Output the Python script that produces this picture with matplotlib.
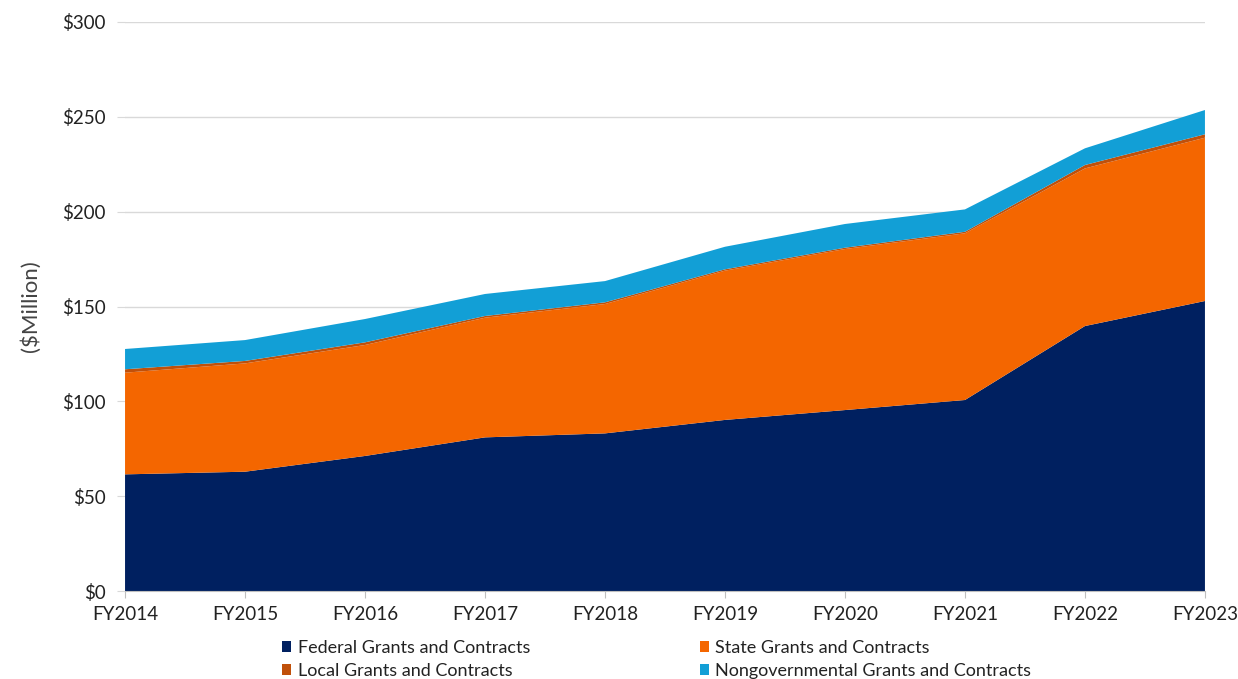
import matplotlib
matplotlib.use("Agg")
import matplotlib.pyplot as plt
from matplotlib.ticker import FuncFormatter

years = ["FY2014", "FY2015", "FY2016", "FY2017", "FY2018",
         "FY2019", "FY2020", "FY2021", "FY2022", "FY2023"]

# Sponsored revenue by source, $ million
federal = [61.5, 62.9, 71.2, 81.0, 83.1, 90.2, 95.4, 100.7, 139.7, 152.9]
state = [53.6, 57.1, 58.5, 63.1, 68.2, 78.7, 84.9, 87.9, 83.1, 86.1]
local = [1.8, 1.3, 1.4, 0.9, 0.9, 0.7, 0.7, 0.8, 1.8, 1.8]
nongov = [10.7, 11.0, 12.3, 11.6, 11.2, 11.9, 12.5, 11.8, 8.8, 12.8]

series_names = ["Federal Grants and Contracts", "State Grants and Contracts",
                "Local Grants and Contracts", "Nongovernmental Grants and Contracts"]
colors = ["#002060", "#F46600", "#C0500A", "#129FD6"]

plt.rcParams["font.family"] = ["Lato", "DejaVu Sans"]

fig = plt.figure(figsize=(12.38, 6.79), dpi=100)
ax = fig.add_axes([0.101, 0.1296, 0.8723, 0.838])

x = list(range(len(years)))
polys = ax.stackplot(x, federal, state, local, nongov, colors=colors,
                     labels=series_names, linewidth=0, zorder=2)

ax.set_xlim(0, len(years) - 1)
ax.set_ylim(0, 300)
ax.set_yticks(range(0, 301, 50))
ax.yaxis.set_major_formatter(FuncFormatter(lambda v, p: f"${int(v)}"))
ax.set_xticks(x)
ax.set_xticklabels(years)

ax.grid(axis="y", color="#D9D9D9", linewidth=1, zorder=0)
ax.set_axisbelow(True)
for s in ["top", "right", "left"]:
    ax.spines[s].set_visible(False)
ax.spines["bottom"].set_color("#BFBFBF")
ax.spines["bottom"].set_zorder(3)

ax.tick_params(axis="y", length=6, color="#D9D9D9", labelsize=13.5,
               labelcolor="#222222", pad=8)
ax.tick_params(axis="x", length=5, color="#BFBFBF", labelsize=13.5,
               labelcolor="#222222", pad=6)

ax.set_ylabel("($Million)", fontsize=16, color="#444444", labelpad=15)

handles = [polys[0], polys[2], polys[1], polys[3]]
labels = [series_names[0], series_names[2], series_names[1], series_names[3]]
fig.legend(handles, labels, loc="lower left", bbox_to_anchor=(0.215, -0.024),
           ncol=2, frameon=False, fontsize=13, handlelength=0.5,
           handleheight=0.5, handletextpad=0.35, columnspacing=9.4,
           labelspacing=0.4, labelcolor="#222222")

fig.savefig("out.png", dpi=100)
